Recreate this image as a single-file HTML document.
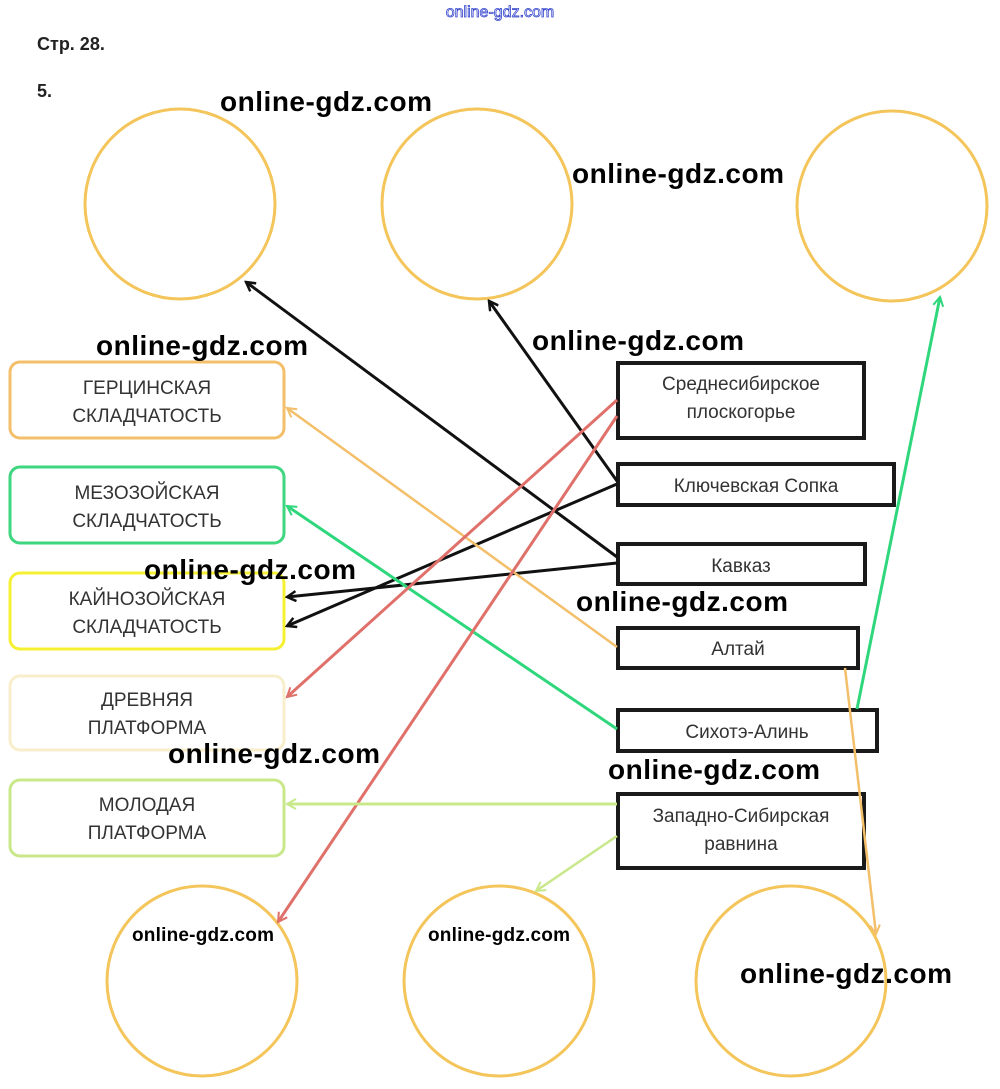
<!DOCTYPE html>
<html><head><meta charset="utf-8"><style>
body{margin:0;background:#fff}
svg{display:block}
.b{font-family:"Liberation Sans",sans-serif;font-size:19px;fill:#333;text-anchor:middle}
.w{font-family:"Liberation Sans",sans-serif;font-weight:bold;font-size:28px;fill:#000}
</style></head><body>
<svg width="1000" height="1089" viewBox="0 0 1000 1089" xmlns="http://www.w3.org/2000/svg">
<defs>
<marker id="ak" markerWidth="12" markerHeight="12" refX="10" refY="6" orient="auto" markerUnits="userSpaceOnUse"><path d="M1,1 L10,6 L1,11" fill="none" stroke="#111" stroke-width="2.5"/></marker>
<marker id="ao" markerWidth="12" markerHeight="12" refX="10" refY="6" orient="auto" markerUnits="userSpaceOnUse"><path d="M1,1 L10,6 L1,11" fill="none" stroke="#f3bf6a" stroke-width="2"/></marker>
<marker id="ag" markerWidth="12" markerHeight="12" refX="10" refY="6" orient="auto" markerUnits="userSpaceOnUse"><path d="M1,1 L10,6 L1,11" fill="none" stroke="#2fd77c" stroke-width="2"/></marker>
<marker id="ar" markerWidth="12" markerHeight="12" refX="10" refY="6" orient="auto" markerUnits="userSpaceOnUse"><path d="M1,1 L10,6 L1,11" fill="none" stroke="#e0706a" stroke-width="2"/></marker>
<marker id="al" markerWidth="12" markerHeight="12" refX="10" refY="6" orient="auto" markerUnits="userSpaceOnUse"><path d="M1,1 L10,6 L1,11" fill="none" stroke="#c8e88a" stroke-width="2"/></marker>
</defs>
<text x="500" y="17" font-family="Liberation Sans,sans-serif" font-size="16" fill="#fff" stroke="#3344cc" stroke-width="0.8" text-anchor="middle">online-gdz.com</text>
<text x="37" y="50" font-family="Liberation Sans,sans-serif" font-weight="bold" font-size="18" fill="#222">Стр. 28.</text>
<text x="37" y="97" font-family="Liberation Sans,sans-serif" font-weight="bold" font-size="18" fill="#222">5.</text>
<g fill="none" stroke="#f4c55a" stroke-width="3">
<circle cx="180" cy="204" r="95"/><circle cx="477" cy="204" r="95"/><circle cx="892" cy="206" r="95"/>
<circle cx="202" cy="981" r="95"/><circle cx="499" cy="981" r="95"/><circle cx="791" cy="981" r="95"/>
</g>
<g fill="#fff" stroke-width="3">
<rect x="10" y="362" width="274" height="76" rx="10" stroke="#f3bf6a"/>
<rect x="10" y="467" width="274" height="76" rx="10" stroke="#3ed67f"/>
<rect x="10" y="573" width="274" height="76" rx="10" stroke="#f6f032"/>
<rect x="10" y="676" width="274" height="74" rx="10" stroke="#f8eecc"/>
<rect x="10" y="780" width="274" height="76" rx="10" stroke="#c8e88a"/>
</g>
<g fill="#fff" stroke="#1a1a1a" stroke-width="4">
<rect x="618" y="363" width="246" height="75"/>
<rect x="618" y="464" width="276" height="41"/>
<rect x="618" y="544" width="247" height="40"/>
<rect x="618" y="628" width="240" height="40"/>
<rect x="618" y="710" width="259" height="41"/>
<rect x="618" y="794" width="246" height="74"/>
</g>
<g class="b">
<text x="147" y="394">ГЕРЦИНСКАЯ</text><text x="147" y="422">СКЛАДЧАТОСТЬ</text>
<text x="147" y="499">МЕЗОЗОЙСКАЯ</text><text x="147" y="527">СКЛАДЧАТОСТЬ</text>
<text x="147" y="605">КАЙНОЗОЙСКАЯ</text><text x="147" y="633">СКЛАДЧАТОСТЬ</text>
<text x="147" y="706">ДРЕВНЯЯ</text><text x="147" y="734">ПЛАТФОРМА</text>
<text x="147" y="811">МОЛОДАЯ</text><text x="147" y="839">ПЛАТФОРМА</text>
<text x="741" y="390">Среднесибирское</text><text x="741" y="418">плоскогорье</text>
<text x="756" y="492">Ключевская Сопка</text>
<text x="741" y="572">Кавказ</text>
<text x="738" y="655">Алтай</text>
<text x="747" y="738">Сихотэ-Алинь</text>
<text x="741" y="822">Западно-Сибирская</text><text x="741" y="850">равнина</text>
</g>
<g fill="none" stroke-width="3">
<line x1="617" y1="557" x2="246" y2="282" stroke="#111" marker-end="url(#ak)"/>
<line x1="617" y1="481" x2="489" y2="301" stroke="#111" marker-end="url(#ak)"/>
<line x1="617" y1="484" x2="287" y2="626" stroke="#111" marker-end="url(#ak)"/>
<line x1="617" y1="563" x2="287" y2="597" stroke="#111" marker-end="url(#ak)"/>
<line x1="617" y1="647" x2="287" y2="408" stroke="#f3bf6a" stroke-width="2.5" marker-end="url(#ao)"/>
<line x1="617" y1="729" x2="287" y2="506" stroke="#2fd77c" marker-end="url(#ag)"/>
<line x1="857" y1="709" x2="940" y2="297" stroke="#2fd77c" marker-end="url(#ag)"/>
<line x1="617" y1="400" x2="287" y2="697" stroke="#e0706a" marker-end="url(#ar)"/>
<line x1="617" y1="416" x2="278" y2="922" stroke="#e0706a" marker-end="url(#ar)"/>
<line x1="617" y1="804" x2="287" y2="804" stroke="#c8e88a" marker-end="url(#al)"/>
<line x1="617" y1="836" x2="536" y2="891" stroke="#c8e88a" stroke-width="2.5" marker-end="url(#al)"/>
<line x1="845" y1="668" x2="876" y2="934" stroke="#f3bf6a" stroke-width="2.5" marker-end="url(#ao)"/>
</g>
<g class="w">
<text x="220" y="111" textLength="212">online-gdz.com</text>
<text x="572" y="183" textLength="212">online-gdz.com</text>
<text x="96" y="355" textLength="212">online-gdz.com</text>
<text x="532" y="350" textLength="212">online-gdz.com</text>
<text x="144" y="579" textLength="212">online-gdz.com</text>
<text x="576" y="611" textLength="212">online-gdz.com</text>
<text x="168" y="763" textLength="212">online-gdz.com</text>
<text x="608" y="779" textLength="212">online-gdz.com</text>
<text x="740" y="983" textLength="212">online-gdz.com</text>
<text x="132" y="941" textLength="142" style="font-size:19px">online-gdz.com</text>
<text x="428" y="941" textLength="142" style="font-size:19px">online-gdz.com</text>
</g>
</svg>
</body></html>
